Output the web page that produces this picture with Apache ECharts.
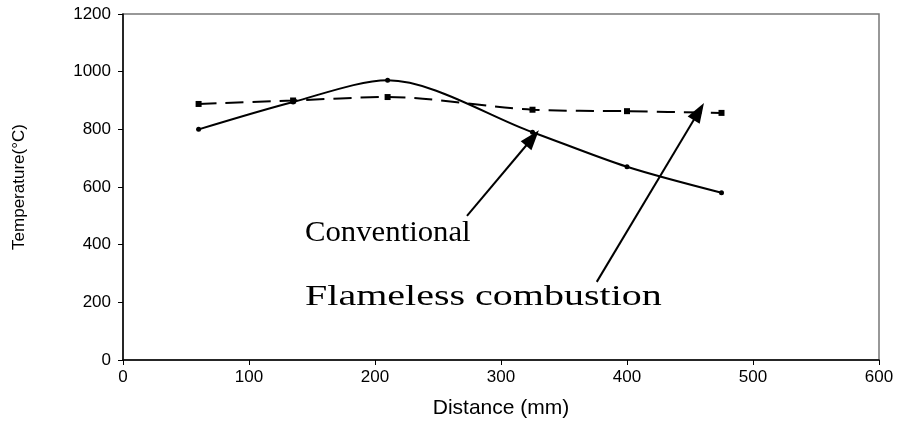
<!DOCTYPE html>
<html>
<head>
<meta charset="utf-8">
<script src="https://cdn.jsdelivr.net/npm/echarts@6/dist/echarts.min.js"></script>
<style>
  html, body { margin: 0; padding: 0; background: #fff; }
  #chart { width: 900px; height: 426px; }
</style>
</head>
<body>
<div id="chart"></div>
<script>
// distances (mm) and temperatures
const conventionalX = [60, 135, 210, 325, 400, 475]
const conventionalY = [800, 895, 970, 790, 670, 580]
const flamelessX = [60, 135, 210, 325, 400, 475]
const flamelessY = [888, 900, 912, 868, 863, 857]

// annotation arrows, in data units: [tailX, tailY, tipX, tipY]
const conventionalArrow = [273, 500, 325, 770]
const flamelessArrow = [376, 271, 457, 862]

const sansFont = "'Liberation Sans', Arial, sans-serif"
const serifFont = "'Liberation Serif', 'Times New Roman', serif"

const zip = (xs, ys) => xs.map((x, i) => [x, ys[i]])
const arrowLine = (a) => [{ coord: [a[0], a[1]] }, { coord: [a[2], a[3]] }]

const chart = echarts.init(document.getElementById("chart"), null, { renderer: "canvas" })

chart.setOption({
  backgroundColor: "#fff",
  animation: false,
  grid: {
    left: 123, right: 21, top: 14, bottom: 66,
    show: true, borderColor: "#777", borderWidth: 1.5, backgroundColor: "transparent",
  },
  xAxis: {
    type: "value", min: 0, max: 600, interval: 100,
    name: "Distance (mm)", nameLocation: "middle", nameGap: 38,
    nameTextStyle: { fontFamily: sansFont, fontSize: 21, color: "#000" },
    axisLine: { lineStyle: { color: "#000", width: 1.5 } },
    axisTick: { show: true, length: 5, lineStyle: { color: "#000" } },
    axisLabel: { fontFamily: sansFont, fontSize: 17, color: "#000", margin: 9, formatter: (v) => String(v) },
    splitLine: { show: false },
  },
  yAxis: {
    type: "value", min: 0, max: 1200, interval: 200,
    name: "Temperature(°C)", nameLocation: "middle", nameGap: 95, nameRotate: 90,
    nameTextStyle: { fontFamily: sansFont, fontSize: 17, color: "#000" },
    axisLine: { show: true, lineStyle: { color: "#000", width: 1.5 } },
    axisTick: { show: true, length: 5, lineStyle: { color: "#000" } },
    axisLabel: { fontFamily: sansFont, fontSize: 17, color: "#000", margin: 12, formatter: (v) => String(v) },
    splitLine: { show: false },
  },
  series: [
    {
      name: "Conventional", type: "line", data: zip(conventionalX, conventionalY),
      smooth: 0.3, symbol: "circle", symbolSize: 5,
      lineStyle: { color: "#000", width: 2 }, itemStyle: { color: "#000" },
      markLine: {
        silent: true, symbol: ["none", "triangle"], symbolSize: [14, 20],
        label: { show: false },
        lineStyle: { color: "#000", width: 2, type: "solid" },
        data: [arrowLine(conventionalArrow), arrowLine(flamelessArrow)],
      },
    },
    {
      name: "Flameless combustion", type: "line", data: zip(flamelessX, flamelessY),
      smooth: 0.3, symbol: "rect", symbolSize: 6,
      lineStyle: { color: "#000", width: 2, type: [18, 9] }, itemStyle: { color: "#000" },
    },
  ],
  graphic: [
    { type: "text", x: 305, y: 219, scaleX: 1.06, style: { text: "Conventional", font: `29px ${serifFont}`, fill: "#000" } },
    { type: "text", x: 305, y: 283, scaleX: 1.38, style: { text: "Flameless combustion", font: `29px ${serifFont}`, fill: "#000" } },
  ],
})
</script>
</body>
</html>
